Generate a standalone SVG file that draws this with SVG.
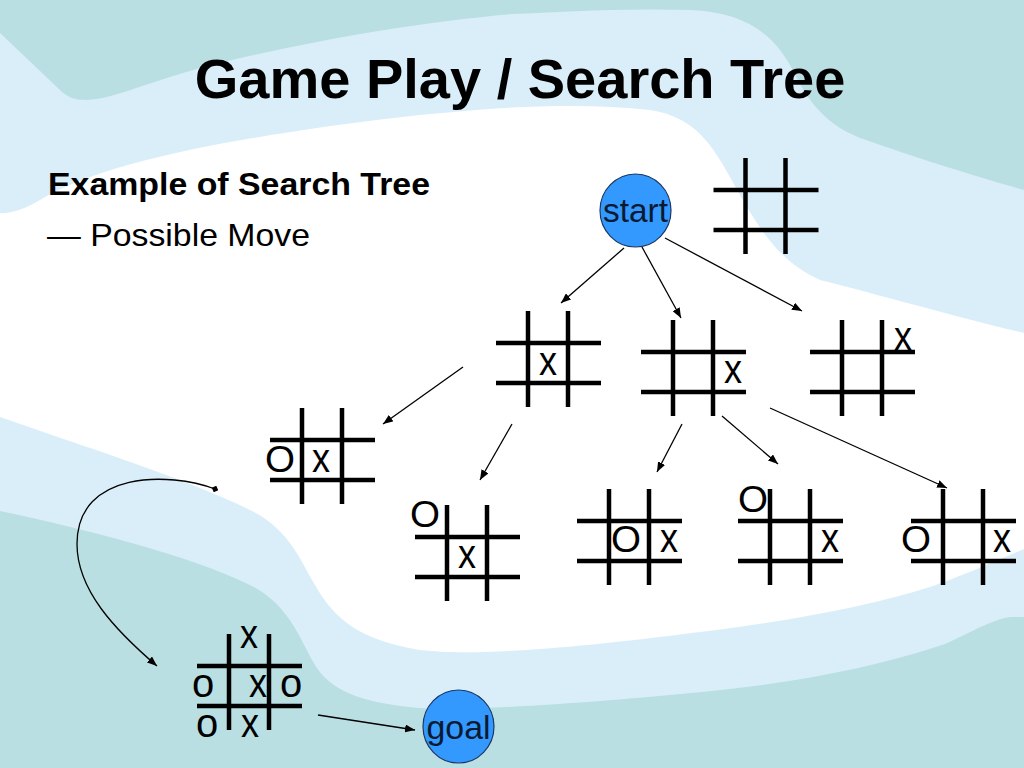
<svg xmlns="http://www.w3.org/2000/svg" xmlns:xlink="http://www.w3.org/1999/xlink" width="1024" height="768" viewBox="0 0 1024 768">
<style>
.gl{stroke:#000;stroke-width:4.5;fill:none}
.t{font-family:"Liberation Sans",Arial,sans-serif;fill:#000;text-anchor:middle}
.x{font-size:40px}
.o{font-size:36px}
.lo{font-size:40px}
.edge{stroke:#000;stroke-width:1.3;fill:none;marker-end:url(#ah)}
.node{fill:#3399ff;stroke:#1a3866;stroke-width:1.2}
.lab{font-family:"Liberation Sans",Arial,sans-serif;font-size:34px;fill:#0a1a33;text-anchor:middle}
</style>
<defs>
<marker id="ah" viewBox="0 0 10 8" refX="10" refY="4" markerWidth="10" markerHeight="8" markerUnits="userSpaceOnUse" orient="auto">
<path d="M0,0 L10,4 L0,8 Z" fill="#000"/>
</marker>
<marker id="dm" viewBox="0 0 8 8" refX="4" refY="4" markerWidth="7" markerHeight="7" markerUnits="userSpaceOnUse" orient="auto">
<path d="M0,4 L4,0 L8,4 L4,8 Z" fill="#000"/>
</marker>
<g id="grid" class="gl">
<line x1="32" y1="0" x2="32" y2="96"/>
<line x1="72" y1="0" x2="72" y2="96"/>
<line x1="0" y1="32" x2="105" y2="32"/>
<line x1="0" y1="72" x2="105" y2="72"/>
</g>
</defs>

<g id="background">
<rect width="1024" height="768" fill="#ffffff"/>
<path fill="#daeefa" d="M0,0 H1024 V333 C 960,318 880,295 820,280 C 780,262 760,230 740,195 C 715,150 700,118 650,110 C 560,100 450,110 330,126 C 200,145 100,165 40,200 C 20,212 5,214 0,213 Z"/>
<path fill="#badfe3" d="M0,0 H1024 V190 C 960,172 900,152 860,138 C 820,122 805,95 790,65 C 770,30 740,12 690,10 C 620,8 560,12 512,14 C 420,22 300,42 200,68 C 140,85 110,100 85,100 C 75,100 68,97 62,92 L 0,33 Z"/>
<path fill="#daeefa" d="M0,417 C 80,445 190,480 250,510 C 290,530 300,560 315,585 C 335,620 360,640 420,650 C 470,656 560,650 700,632 C 800,620 880,603 930,587 C 960,577 990,563 1024,549 V768 H0 Z"/>
<path fill="#badfe3" d="M0,511 C 80,528 190,555 250,585 C 290,605 300,640 315,665 C 330,690 360,703 420,708 C 480,711 600,702 712,691 C 800,682 880,666 945,644 C 970,633 990,620 1010,617 L1024,617 V768 H0 Z"/>
</g>

<g id="title">
<text x="520" y="98" font-family="Liberation Sans, Arial, sans-serif" font-size="56" font-weight="bold" text-anchor="middle">Game Play / Search Tree</text>
<text x="48" y="195" font-family="Liberation Sans, Arial, sans-serif" font-size="31" font-weight="bold" textLength="382" lengthAdjust="spacingAndGlyphs">Example of Search Tree</text>
<text x="47" y="246" font-family="Liberation Sans, Arial, sans-serif" font-size="32" textLength="263" lengthAdjust="spacingAndGlyphs">— Possible Move</text>
</g>

<g id="connectors">
<line class="edge" x1="624" y1="248" x2="561" y2="303"/>
<line class="edge" x1="642" y1="247" x2="681" y2="318"/>
<line class="edge" x1="665" y1="238" x2="802" y2="311"/>
<line class="edge" x1="463" y1="367" x2="383" y2="424"/>
<line class="edge" x1="512" y1="424" x2="480" y2="480"/>
<line class="edge" x1="682" y1="424" x2="657" y2="472"/>
<line class="edge" x1="722" y1="416" x2="778" y2="464"/>
<line class="edge" x1="770" y1="408" x2="947" y2="488"/>
<path class="edge" marker-start="url(#dm)" d="M215,489 C 170,472 77,470 77,544 C 77,590 115,630 157,666"/>
<line class="edge" x1="318" y1="715" x2="415" y2="730"/>
</g>

<g id="node-start">
<ellipse class="node" cx="635.5" cy="210.5" rx="35.5" ry="36.5"/>
<text class="lab" x="635.5" y="222" textLength="65" lengthAdjust="spacingAndGlyphs">start</text>
</g>

<g id="board-empty">
<use xlink:href="#grid" x="713.5" y="158"/>
</g>

<g id="board-1">
<use xlink:href="#grid" x="496" y="311"/>
<text class="t x" x="548" y="375" textLength="18" lengthAdjust="spacingAndGlyphs">x</text>
</g>

<g id="board-2">
<use xlink:href="#grid" x="641" y="320"/>
<text class="t x" x="733" y="383" textLength="18" lengthAdjust="spacingAndGlyphs">x</text>
</g>

<g id="board-3">
<use xlink:href="#grid" x="810" y="320"/>
<text class="t x" x="903" y="350" textLength="18" lengthAdjust="spacingAndGlyphs">x</text>
</g>

<g id="board-1a">
<use xlink:href="#grid" x="270" y="408"/>
<text class="t o" x="280" y="472" textLength="30" lengthAdjust="spacingAndGlyphs">O</text>
<text class="t x" x="321" y="472" textLength="18" lengthAdjust="spacingAndGlyphs">x</text>
</g>

<g id="board-1b">
<use xlink:href="#grid" x="415" y="505"/>
<text class="t o" x="425" y="527" textLength="30" lengthAdjust="spacingAndGlyphs">O</text>
<text class="t x" x="467" y="568" textLength="18" lengthAdjust="spacingAndGlyphs">x</text>
</g>

<g id="board-2a">
<use xlink:href="#grid" x="577" y="489"/>
<text class="t o" x="626" y="552" textLength="30" lengthAdjust="spacingAndGlyphs">O</text>
<text class="t x" x="669" y="552" textLength="18" lengthAdjust="spacingAndGlyphs">x</text>
</g>

<g id="board-2b">
<use xlink:href="#grid" x="738" y="489"/>
<text class="t o" x="753" y="512" textLength="30" lengthAdjust="spacingAndGlyphs">O</text>
<text class="t x" x="830" y="552" textLength="18" lengthAdjust="spacingAndGlyphs">x</text>
</g>

<g id="board-2c">
<use xlink:href="#grid" x="911" y="489"/>
<text class="t o" x="916" y="552" textLength="30" lengthAdjust="spacingAndGlyphs">O</text>
<text class="t x" x="1002" y="552" textLength="18" lengthAdjust="spacingAndGlyphs">x</text>
</g>

<g id="board-final">
<use xlink:href="#grid" x="197" y="634"/>
<text class="t x" x="249" y="648" textLength="18" lengthAdjust="spacingAndGlyphs">x</text>
<text class="t lo" x="203" y="697">o</text>
<text class="t x" x="258" y="697" textLength="18" lengthAdjust="spacingAndGlyphs">x</text>
<text class="t lo" x="291" y="697">o</text>
<text class="t lo" x="207" y="737">o</text>
<text class="t x" x="250" y="737" textLength="18" lengthAdjust="spacingAndGlyphs">x</text>
</g>

<g id="node-goal">
<ellipse class="node" cx="458.5" cy="726.5" rx="35.5" ry="36.5"/>
<text class="lab" x="458.5" y="739" textLength="64" lengthAdjust="spacingAndGlyphs">goal</text>
</g>
</svg>
